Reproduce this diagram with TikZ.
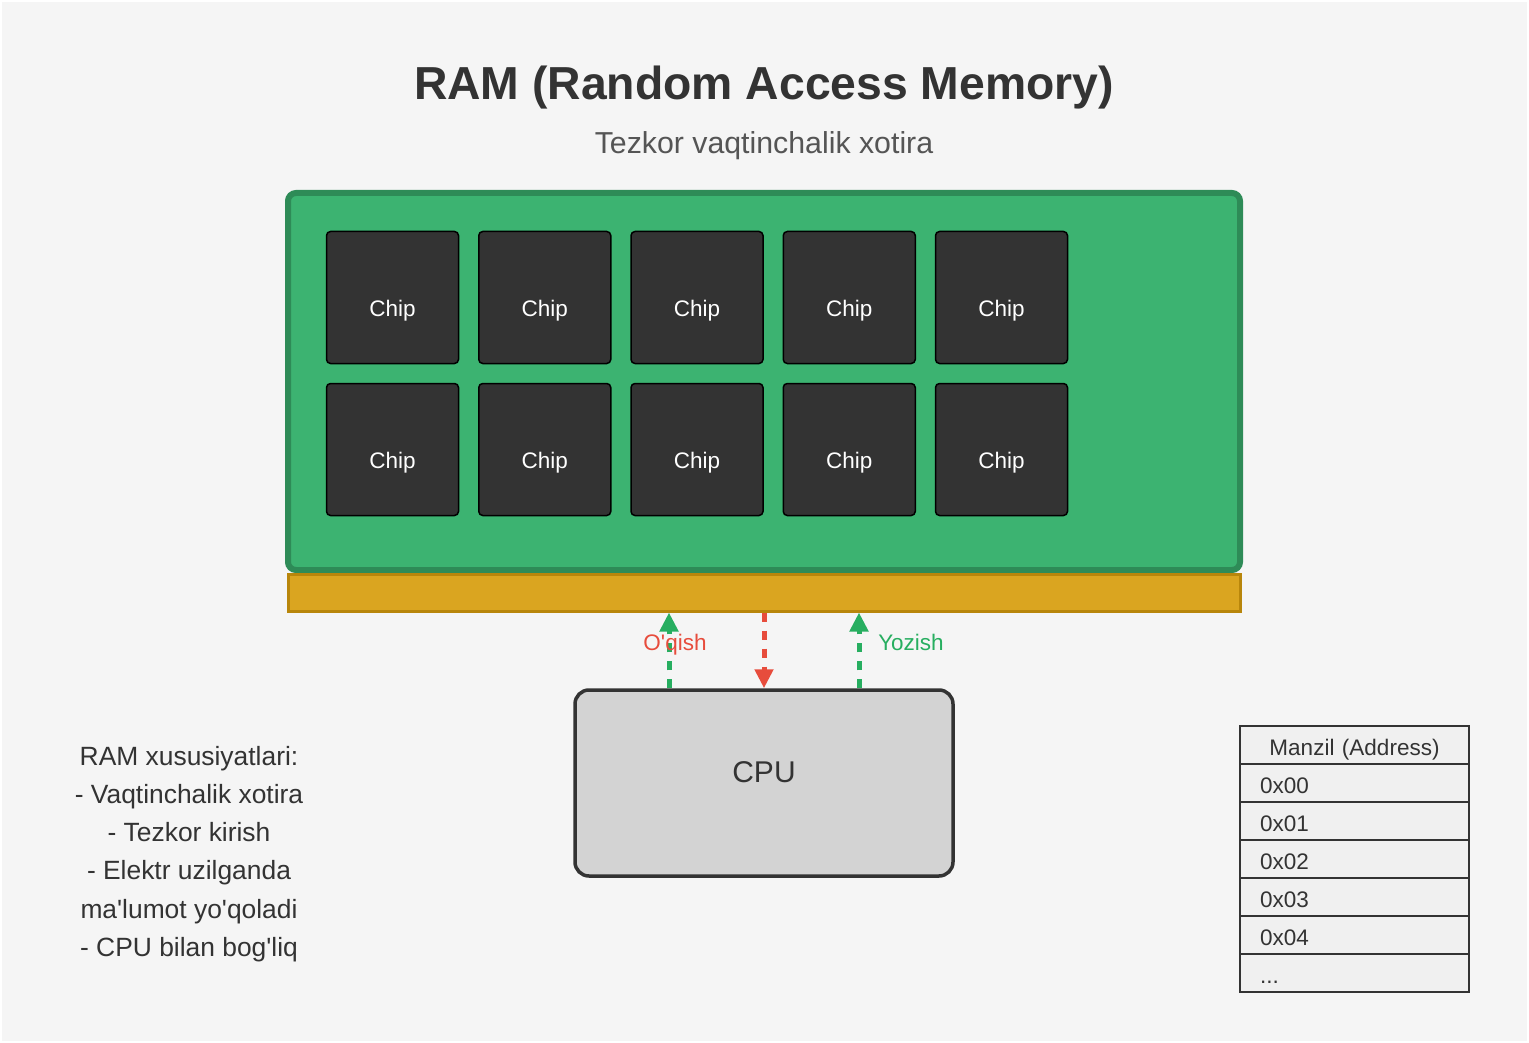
\documentclass[tikz,border=0pt]{standalone}
\usepackage{fontspec}
\setmainfont{Liberation Sans}[Ligatures=TeXOff]
\usetikzlibrary{arrows.meta,positioning}
\definecolor{pagebg}{HTML}{F5F5F5}
\definecolor{boardgreen}{HTML}{3CB371}
\definecolor{boardedge}{HTML}{2E8B57}
\definecolor{pingold}{HTML}{DAA520}
\definecolor{pinedge}{HTML}{B8860B}
\definecolor{chipgray}{HTML}{333333}
\definecolor{textdark}{HTML}{333333}
\definecolor{textmid}{HTML}{555555}
\definecolor{cpugray}{HTML}{D3D3D3}
\definecolor{readred}{HTML}{E74C3C}
\definecolor{writegreen}{HTML}{27AE60}
\definecolor{cellgray}{HTML}{F0F0F0}

\begin{document}
\begin{tikzpicture}[x=1pt, y=-1pt,
  board/.style={rectangle, rounded corners=8pt, draw=boardedge, fill=boardgreen,
                line width=6pt, minimum width=952pt, minimum height=377pt},
  pinbar/.style={rectangle, draw=pinedge, fill=pingold, line width=3pt,
                 minimum width=952pt, minimum height=37pt},
  chip/.style={rectangle, rounded corners=4pt, draw=black, fill=chipgray,
               line width=1.5pt, minimum width=132pt, minimum height=132pt,
               outer sep=0pt, inner sep=0pt, text=white, text height=42pt,
               font=\fontsize{22.5}{27}\selectfont},
  cpubox/.style={rectangle, rounded corners=14pt, draw=textdark, fill=cpugray,
                 line width=3.5pt, minimum width=378pt, minimum height=186pt,
                 text=textdark, text depth=22pt, font=\fontsize{30}{36}\selectfont},
  cell/.style={rectangle, draw=textdark, fill=cellgray, line width=1.5pt,
               minimum width=229pt, minimum height=38pt, outer sep=0pt,
               inner xsep=20pt, text width=189pt, align=left, text=textdark,
               text height=20pt, text depth=0pt, font=\fontsize{22.5}{27}\selectfont},
  rd/.style={readred, line width=5pt, dash pattern=on 9pt off 9pt,
             -{Triangle[length=19pt, width=18pt]}},
  wr/.style={writegreen, line width=5pt, dash pattern=on 9pt off 9pt,
             -{Triangle[length=19pt, width=18pt]}},
  lab/.style={anchor=base, font=\fontsize{22.5}{27}\selectfont},
  node distance=20pt,
]
\useasboundingbox (0,0) rectangle (1529,1043);
\fill[white] (0,0) rectangle (1529,1043);
\fill[pagebg] (2,2) rectangle (1527,1041);

% title
\node[anchor=base, text=textdark, font=\bfseries\fontsize{46.3}{55}\selectfont]
  (title) at (764,100) {RAM (Random Access Memory)};
\node[anchor=base, text=textmid, font=\fontsize{30.3}{36}\selectfont]
  (subtitle) at (764,154) {Tezkor vaqtinchalik xotira};

% memory module
\node[board]  (board) at (764,381.5) {};
\node[pinbar] (pins)  at (764,592.5) {};

\node[chip] (chipA1) at (392.5,297.5) {Chip};
\node[chip, right=20.25pt of chipA1] (chipA2) {Chip};
\node[chip, right=20.25pt of chipA2] (chipA3) {Chip};
\node[chip, right=20.25pt of chipA3] (chipA4) {Chip};
\node[chip, right=20.25pt of chipA4] (chipA5) {Chip};
\node[chip, below=of chipA1] (chipB1) {Chip};
\node[chip, below=of chipA2] (chipB2) {Chip};
\node[chip, below=of chipA3] (chipB3) {Chip};
\node[chip, below=of chipA4] (chipB4) {Chip};
\node[chip, below=of chipA5] (chipB5) {Chip};

% processor and data lines
\node[cpubox] (cpu) at (764,783) {CPU};

\draw[wr] ([xshift=-95pt]cpu.north) -- ([xshift=-95pt]cpu.north |- pins.south);
\draw[rd] (pins.south) -- (cpu.north);
\draw[wr] ([xshift=95pt]cpu.north) -- ([xshift=95pt]cpu.north |- pins.south);
\node[lab, text=readred]    (readlab)  at (675,650) {O'qish};
\node[lab, text=writegreen] (writelab) at (911,650) {Yozish};

% features
\node[align=center, text=textdark, font=\fontsize{26.4}{38.2}\selectfont]
  (features) at (189,854) {RAM xususiyatlari:\\- Vaqtinchalik xotira\\- Tezkor kirish\\
  - Elektr uzilganda\\ma'lumot yo'qoladi\\- CPU bilan bog'liq};

% address table
\node[cell, align=center] (addrhead) at (1354.5,745) {Manzil (Address)};
\node[cell, below=0pt of addrhead] (addr0) {0x00};
\node[cell, below=0pt of addr0]    (addr1) {0x01};
\node[cell, below=0pt of addr1]    (addr2) {0x02};
\node[cell, below=0pt of addr2]    (addr3) {0x03};
\node[cell, below=0pt of addr3]    (addr4) {0x04};
\node[cell, below=0pt of addr4]    (addrmore) {...};
\end{tikzpicture}
\end{document}
